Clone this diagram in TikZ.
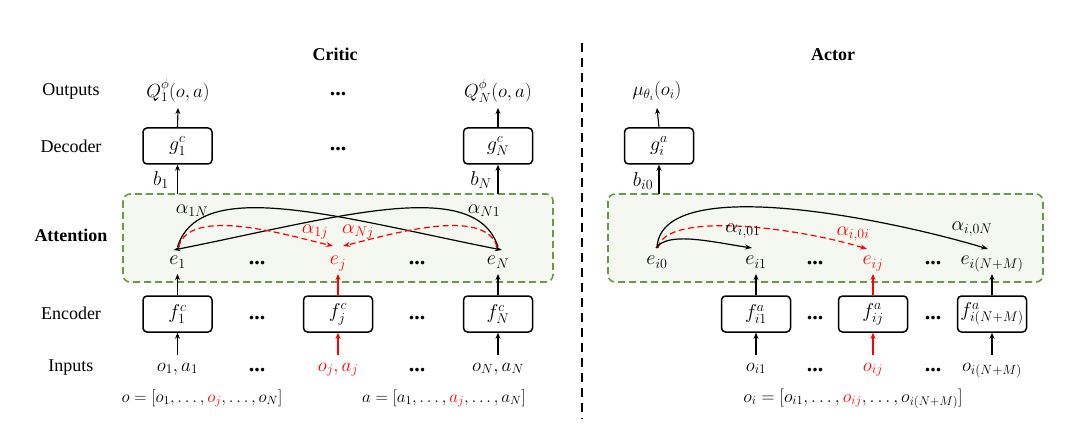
\RequirePackage{fix-cm}
\documentclass[tikz,border=0pt]{standalone}
\usepackage{fontspec}
\setmainfont{Liberation Serif}
\usetikzlibrary{arrows.meta}
\definecolor{gline}{HTML}{6A9A45}
\definecolor{gfill}{HTML}{F4F8F0}
\definecolor{myred}{HTML}{FF0000}
\begin{document}
\begin{tikzpicture}[x=1pt,y=1pt,font=\fontsize{18}{21}\selectfont,
  big/.style={font=\fontsize{20}{24}\selectfont},
  mid/.style={font=\fontsize{19}{23}\selectfont},
  small/.style={font=\fontsize{17}{20}\selectfont},
  mbox/.style={draw,line width=1.5pt,rounded corners=4pt,minimum width=69pt,minimum height=36pt,inner sep=0pt,big},
  arr/.style={line width=1.1pt,-{Stealth[length=6pt,width=5pt]}},
  rarr/.style={arr,color=myred},
  curv/.style={line width=1.2pt,-{Stealth[length=7pt,width=5pt]}},
  rcurv/.style={curv,color=myred,dash pattern=on 6pt off 3.5pt},
  lbl/.style={anchor=base,inner sep=0pt,mid},
  vlbl/.style={anchor=base,inner sep=0pt},
  elbl/.style={anchor=base,inner sep=0pt,big},
  rowlbl/.style={anchor=base,inner sep=0pt},
  att/.style={draw=gline,dash pattern=on 7pt off 4pt,line width=1.6pt,fill=gfill,rounded corners=7pt},
  dotsn/.style={anchor=base,inner sep=0pt,font=\fontsize{22}{24}\selectfont\bfseries},
  alab/.style={inner sep=0pt,big}]
\useasboundingbox (0,0) rectangle (1080,-433);

% attention boxes
\draw[att] (123,-194) rectangle (553,-282);
\draw[att] (608,-194) rectangle (1043,-282);

% divider
\coordinate (divtop) at (582,-43);
\coordinate (divbot) at (582,-419);
\draw[line width=1.5pt,dash pattern=on 9pt off 6pt] (divtop) -- (divbot);

% titles
\node[rowlbl] (tc) at (335,-61) {\textbf{Critic}};
\node[rowlbl] (ta) at (833,-61) {\textbf{Actor}};

% row labels
\node[rowlbl] (rOut) at (71,-96) {Outputs};
\node[rowlbl] (rDec) at (71,-153) {Decoder};
\node[rowlbl] (rAtt) at (71,-241) {\textbf{Attention}};
\node[rowlbl] (rEnc) at (71,-319) {Encoder};
\node[rowlbl] (rInp) at (71,-371) {Inputs};

% ---------------- Critic ----------------
\node[lbl] (Q1) at (178,-98) {$Q_1^{\phi}(o,a)$};
\node[lbl] (QN) at (498,-98) {$Q_N^{\phi}(o,a)$};
\node[dotsn] (od) at (338,-96) {...};

\node[mbox] (dec1) at (177.5,-146) {$g_1^c$};
\node[mbox] (decN) at (498,-146) {$g_N^c$};
\node[dotsn] (dd) at (338,-151) {...};

\node[alab] (b1) at (161,-180) {$b_1$};
\node[alab] (bN) at (481,-180) {$b_N$};
\coordinate (t1) at (177.5,-194);
\coordinate (tN) at (498,-194);

\node[elbl] (e1) at (177.5,-265) {$e_1$};
\node[elbl,text=myred] (ej) at (338,-265) {$e_j$};
\node[elbl] (eN) at (498,-265) {$e_N$};
\node[dotsn] (ed1) at (257,-265) {...};
\node[dotsn] (ed2) at (417,-265) {...};

\node[mbox] (enc1) at (177.5,-314) {$f_1^c$};
\node[mbox] (encj) at (338,-314) {$f_j^c$};
\node[mbox] (encN) at (498,-314) {$f_N^c$};
\node[dotsn] (ncd1) at (257,-319) {...};
\node[dotsn] (ncd2) at (417,-319) {...};

\node[lbl] (in1) at (177.5,-371) {$o_1,a_1$};
\node[lbl,text=myred] (inj) at (338,-371) {$o_j,a_j$};
\node[lbl] (inN) at (498,-371) {$o_N,a_N$};
\node[dotsn] (id1) at (257,-371) {...};
\node[dotsn] (id2) at (417,-371) {...};

\node[vlbl,small] (ovec) at (202,-402) {$o=[o_1,\dots,{\color{myred}o_j},\dots,o_N]$};
\node[vlbl,small] (avec) at (444,-402) {$a=[a_1,\dots,{\color{myred}a_j},\dots,a_N]$};

% vertical arrows critic
\draw[arr] (dec1.north) -- ([yshift=-10pt]Q1.base);
\draw[arr] (decN.north) -- ([yshift=-10pt]QN.base);
\draw[arr] (t1) -- (dec1.south);
\draw[arr] (tN) -- (decN.south);
\draw[arr] (enc1.north) -- ([yshift=-9pt]e1.base);
\draw[rarr] (encj.north) -- ([yshift=-9pt]ej.base);
\draw[arr] (encN.north) -- ([yshift=-9pt]eN.base);
\draw[arr] ([yshift=16pt]in1.base) -- (enc1.south);
\draw[rarr] ([yshift=16pt]inj.base) -- (encj.south);
\draw[arr] ([yshift=16pt]inN.base) -- (encN.south);

% attention curves critic
\draw[curv] ([yshift=18pt]e1.base) .. controls (200,-175) and (340,-218) .. ([xshift=4pt,yshift=15pt]eN.base);
\draw[curv] ([yshift=18pt]eN.base) .. controls (475,-175) and (335,-218) .. ([xshift=-4pt,yshift=15pt]e1.base);
\draw[rcurv] ([xshift=1pt,yshift=18pt]e1.base) .. controls (190,-205) and (290,-236) .. ([xshift=-5pt,yshift=19pt]ej.base);
\draw[rcurv] ([xshift=-1pt,yshift=18pt]eN.base) .. controls (485,-205) and (385,-236) .. ([xshift=5pt,yshift=19pt]ej.base);

\node[alab] (a1N) at (192,-211) {$\alpha_{1N}$};
\node[alab] (aN1) at (484,-211) {$\alpha_{N1}$};
\node[alab,text=myred] (a1j) at (315,-232) {$\alpha_{1j}$};
\node[alab,text=myred] (aNj) at (358,-232) {$\alpha_{Nj}$};

% ---------------- Actor ----------------
\node[lbl] (mu) at (657,-96) {$\mu_{\theta_i}(o_i)$};
\node[mbox] (deci) at (659,-146) {$g_i^a$};
\node[alab] (bi0) at (643,-181) {$b_{i0}$};
\coordinate (ti) at (659,-194);

\node[elbl] (ei0) at (657,-265) {$e_{i0}$};
\node[elbl] (ei1) at (756,-265) {$e_{i1}$};
\node[elbl,text=myred] (eij) at (873,-265) {$e_{ij}$};
\node[elbl] (eiNM) at (992,-265) {$e_{i(N+M)}$};
\node[dotsn] (aed1) at (815,-265) {...};
\node[dotsn] (aed2) at (933,-265) {...};

\node[mbox] (fi1) at (756,-314) {$f_{i1}^a$};
\node[mbox] (fij) at (873,-314) {$f_{ij}^a$};
\node[mbox] (fiNM) at (992,-314) {$f_{i(N+M)}^a$};
\node[dotsn] (afd1) at (815,-319) {...};
\node[dotsn] (afd2) at (933,-319) {...};

\node[lbl] (oi1) at (756,-371) {$o_{i1}$};
\node[lbl,text=myred] (oij) at (873,-371) {$o_{ij}$};
\node[lbl] (oiNM) at (992,-371) {$o_{i(N+M)}$};
\node[dotsn] (aid1) at (815,-371) {...};
\node[dotsn] (aid2) at (933,-371) {...};

\node[vlbl] (oivec) at (853,-402) {$o_i=[o_{i1},\dots,{\color{myred}o_{ij}},\dots,o_{i(N+M)}]$};

\draw[arr] (deci.north) -- ([yshift=-12pt]mu.base);
\draw[arr] (ti) -- (deci.south);
\draw[arr] (fi1.north) -- ([yshift=-9pt]ei1.base);
\draw[rarr] (fij.north) -- ([yshift=-9pt]eij.base);
\draw[arr] (fiNM.north) -- ([yshift=-9pt]eiNM.base);
\draw[arr] ([yshift=16pt]oi1.base) -- (fi1.south);
\draw[rarr] ([yshift=16pt]oij.base) -- (fij.south);
\draw[arr] ([yshift=16pt]oiNM.base) -- (fiNM.south);

\draw[curv] ([yshift=17pt]ei0.base) .. controls (660,-170) and (900,-222) .. ([xshift=-4pt,yshift=16pt]eiNM.base);
\draw[rcurv] ([xshift=1pt,yshift=17pt]ei0.base) .. controls (665,-210) and (800,-228) .. ([xshift=-6pt,yshift=16pt]eij.base);
\draw[curv] ([xshift=-1pt,yshift=17pt]ei0.base) .. controls (668,-231) and (712,-242) .. ([xshift=-4pt,yshift=17pt]ei1.base);

\node[alab] (ai01) at (743,-231) {$\alpha_{i,01}$};
\node[alab,text=myred] (ai0i) at (853,-234) {$\alpha_{i,0i}$};
\node[alab] (ai0N) at (972,-229) {$\alpha_{i,0N}$};
\end{tikzpicture}
\end{document}
